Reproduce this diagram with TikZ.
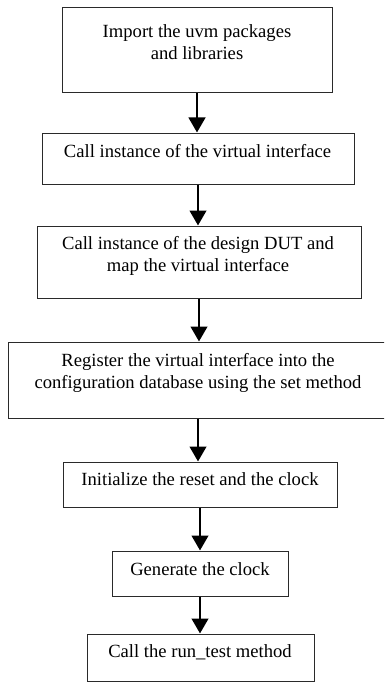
\documentclass[tikz,border=0pt]{standalone}
\usepackage{fontspec}
\setmainfont{Liberation Serif}
\usetikzlibrary{arrows.meta}
\definecolor{boxline}{HTML}{2A2A2A}
\tikzset{
  box/.style={draw=boxline, line width=1pt, rectangle, inner sep=0pt},
  lbl/.style={anchor=base, inner sep=0pt, font=\fontsize{18.6}{22}\selectfont},
  arr/.style={line width=2.8pt, -{Triangle[width=16.5pt,length=15pt]}}
}
\begin{document}
\begin{tikzpicture}[x=1pt,y=-1pt]
\useasboundingbox (0,0) rectangle (384,682);
\clip (0,0) rectangle (384,682);
\node[box, minimum width=270pt, minimum height=85pt] (b1) at (197,50.5) {};
\node[box, minimum width=312pt, minimum height=51pt] (b2) at (198,158.5) {};
\node[box, minimum width=324pt, minimum height=72pt] (b3) at (199,262) {};
\node[box, minimum width=380pt, minimum height=76pt] (b4) at (198,380) {};
\node[box, minimum width=274pt, minimum height=45pt] (b5) at (200,484.5) {};
\node[box, minimum width=176pt, minimum height=45pt] (b6) at (200,573.5) {};
\node[box, minimum width=227pt, minimum height=47pt] (b7) at (200.5,657.5) {};

\node[lbl] (t1a) at (197,37.5) {Import the uvm packages};
\node[lbl] (t1b) at (197,59.5) {and libraries};
\node[lbl] (t2) at (197.5,157) {Call instance of the virtual interface};
\node[lbl] (t3a) at (198,249.5) {Call instance of the design DUT and};
\node[lbl] (t3b) at (198,271.5) {map the virtual interface};
\node[lbl] (t4a) at (198,366.5) {Register the virtual interface into the};
\node[lbl] (t4b) at (198,388.5) {configuration database using the set method};
\node[lbl] (t5) at (200,485.5) {Initialize the reset and the clock};
\node[lbl] (t6) at (200,575) {Generate the clock};
\node[lbl] (t7) at (200,657) {Call the run\_test method};

\draw[arr] (b1.south) -- (b1.south |- b2.north);
\draw[arr] (b2.south) -- (b2.south |- b3.north);
\draw[arr] (b3.south) -- (b3.south |- b4.north);
\draw[arr] (b4.south) -- (b4.south |- b5.north);
\draw[arr] (b5.south) -- (b5.south |- b6.north);
\draw[arr] (b6.south) -- (b6.south |- b7.north);
\end{tikzpicture}
\end{document}
